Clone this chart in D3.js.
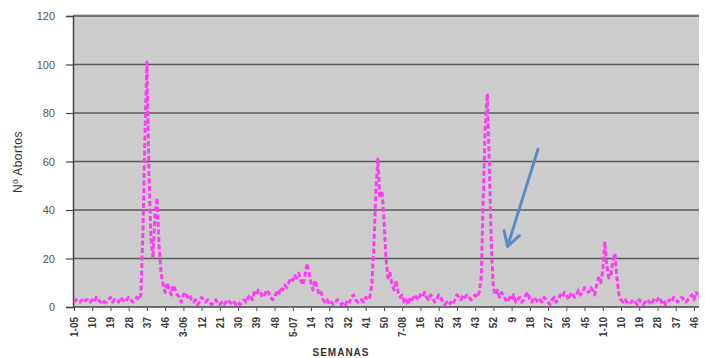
<!DOCTYPE html>
<html><head><meta charset="utf-8">
<script src="https://cdn.jsdelivr.net/npm/d3@7"></script>
<style>html,body{margin:0;padding:0;background:#fff;}svg{display:block;}</style>
</head><body>
<svg id="chart" width="705" height="358"></svg>
<script>
// ---- DATA ----
const years = [2005, 2006, 2007, 2008, 2009, 2010];
const weeksPerYear = [52, 52, 52, 52, 53, 48];
const tickLabels = ["1-05","10","19","28","37","46","3-06","12","21","30","39","48","5-07","14","23","32","41","50","7-08","16","25","34","43","52","9","18","27","36","45","1-10","10","19","28","37","46"];
const yTicks = [0, 20, 40, 60, 80, 100, 120];
const abortos = [
 2,3,2,2,3,2,3,3,2,3, 2,4,3,2,3,2,2,3,4,2, 3,3,2,4,3,2,3,4,3,2, 3,4,3,
 5,30,70,101,55,28,20,38,45,25, 14,9,6,10,7,5,9,7,5,4, 2,5,6,4,5,3,2,3,1,2, 4,3,2,3,2,1,2,3,1,1, 2,1,2,3,2,1,2,1,
 2,1,2,3,2,4,5,3,6,5, 7,6,4,5,7,6,4,3,4,6, 5,8,7,9,8,10,12,11,13,12, 14,11,9,13,18,14,10,7,11,8, 5,6,3,2,3,1,2,1,2,3, 2,1,2,1,3,2,4,5,3,2, 3,
 3,2,4,3,4,9,25,48,61,45,48,36,20,12,14,9,7,11,6,4,5,2,3,1,
 4,3,5,4,3,5,4,6,4,3, 5,4,2,3,5,4,2,1,2,1, 2,1,3,5,4,3,5,4,5,4, 3,4,5,4,6,
 12,45,75,88,58,25,8,5,7,4, 6,5,3,2,4,3,5,2,3,4, 2,3,5,6,3,2,4,3,2,3, 2,4,3,2,1,3,4,2,3,5, 4,6,5,3,5,6,4,5,7,5, 6,8,7,6,8,7,5,9,12,10, 15,
 27,17,12,13,19,22,12,5,3,2, 3,2,1,2,3,2,1,3,2,1, 2,3,2,1,3,2,3,4,2,3, 1,2,3,2,4,3,2,3,4,3, 2,3,4,5,3,6,5
];
// annotation arrow (data coords: category index, value)
const arrowFrom = [229, 65];
const arrowTo = [214, 25];

// ---- BUILD ----
const categories = [];
years.forEach((yr, i) => {
  for (let w = 1; w <= weeksPerYear[i]; w++) categories.push(w + "-" + String(yr).slice(2));
});
const data = categories.map((c, i) => ({c, v: abortos[i]}));

const svg = d3.select("#chart");
const mLeft = 73, mRight = 699, mTop = 16, mBottom = 307;

const x = d3.scalePoint().domain(categories).range([mLeft + 1, mRight - 1]);
const y = d3.scaleLinear().domain([0, 120]).range([mBottom, mTop]);

// plot background
svg.append("rect").attr("x", mLeft).attr("y", mTop - 2).attr("width", mRight - mLeft).attr("height", mBottom - mTop + 2).attr("fill", "#cdcdcd");

// gridlines
svg.append("g").selectAll("line").data(yTicks.filter(d => d > 0)).join("line")
  .attr("x1", mLeft).attr("x2", mRight).attr("y1", d => y(d)).attr("y2", d => y(d))
  .attr("stroke", "#595959").attr("stroke-width", 1.5);

// y axis
const yAxis = svg.append("g").attr("transform", `translate(${mLeft},0)`)
  .call(d3.axisLeft(y).tickValues(yTicks).tickSize(7).tickPadding(11));
yAxis.select(".domain").attr("stroke", "#444").attr("stroke-width", 1.5);
yAxis.selectAll(".tick line").attr("stroke", "#444").attr("stroke-width", 1.2);
yAxis.selectAll("text").attr("font-family", "Liberation Sans, Arial, sans-serif").attr("font-size", 11).attr("fill", "#555");

// x axis
const tickCats = tickLabels.map((t, i) => categories[i * 9]);
const xAxis = svg.append("g").attr("transform", `translate(0,${mBottom})`)
  .call(d3.axisBottom(x).tickValues(tickCats).tickFormat((d, i) => tickLabels[i]).tickSize(4).tickPadding(4));
xAxis.select(".domain").attr("stroke", "#444").attr("stroke-width", 1.5).attr("d", `M${mLeft},0H${mRight}`);
xAxis.selectAll(".tick line").attr("stroke", "#555");
xAxis.selectAll("text")
  .attr("font-family", "Liberation Sans, Arial, sans-serif").attr("font-size", 10).attr("font-weight", "bold").attr("fill", "#3a3a3a")
  .attr("text-anchor", "end").attr("dy", "0.35em")
  .attr("transform", "translate(0,10) rotate(-90)").attr("x", 0).attr("y", 0);

// line
const line = d3.line().x(d => x(d.c)).y(d => y(d.v));
svg.append("path").datum(data).attr("d", line)
  .attr("fill", "none").attr("stroke", "#ff3cf5").attr("stroke-width", 3)
  .attr("stroke-dasharray", "5,2.5").attr("stroke-linejoin", "round");

// arrow annotation
const ax1 = x(categories[arrowFrom[0]]), ay1 = y(arrowFrom[1]);
const ax2 = x(categories[arrowTo[0]]), ay2 = y(arrowTo[1]);
const ang = Math.atan2(ay2 - ay1, ax2 - ax1);
const L = 16, spread = Math.PI / 6;
const w1 = [ax2 - L * Math.cos(ang - spread), ay2 - L * Math.sin(ang - spread)];
const w2 = [ax2 - L * Math.cos(ang + spread), ay2 - L * Math.sin(ang + spread)];
svg.append("path")
  .attr("d", `M${ax1},${ay1}L${ax2},${ay2}M${w1[0]},${w1[1]}L${ax2},${ay2}L${w2[0]},${w2[1]}`)
  .attr("fill", "none").attr("stroke", "#5b8ac6").attr("stroke-width", 3).attr("stroke-linecap", "round").attr("stroke-linejoin", "round");

// titles
svg.append("text").attr("transform", "translate(22,162) rotate(-90)")
  .attr("text-anchor", "middle").attr("font-family", "Liberation Sans, Arial, sans-serif").attr("font-size", 12)
  .attr("letter-spacing", "0.5px").attr("fill", "#333").text("Nº Abortos");
svg.append("text").attr("x", 341).attr("y", 356).attr("text-anchor", "middle")
  .attr("font-family", "Liberation Sans, Arial, sans-serif").attr("font-size", 10).attr("font-weight", "bold")
  .attr("letter-spacing", "1px").attr("fill", "#333").text("SEMANAS");
</script>
</body></html>
